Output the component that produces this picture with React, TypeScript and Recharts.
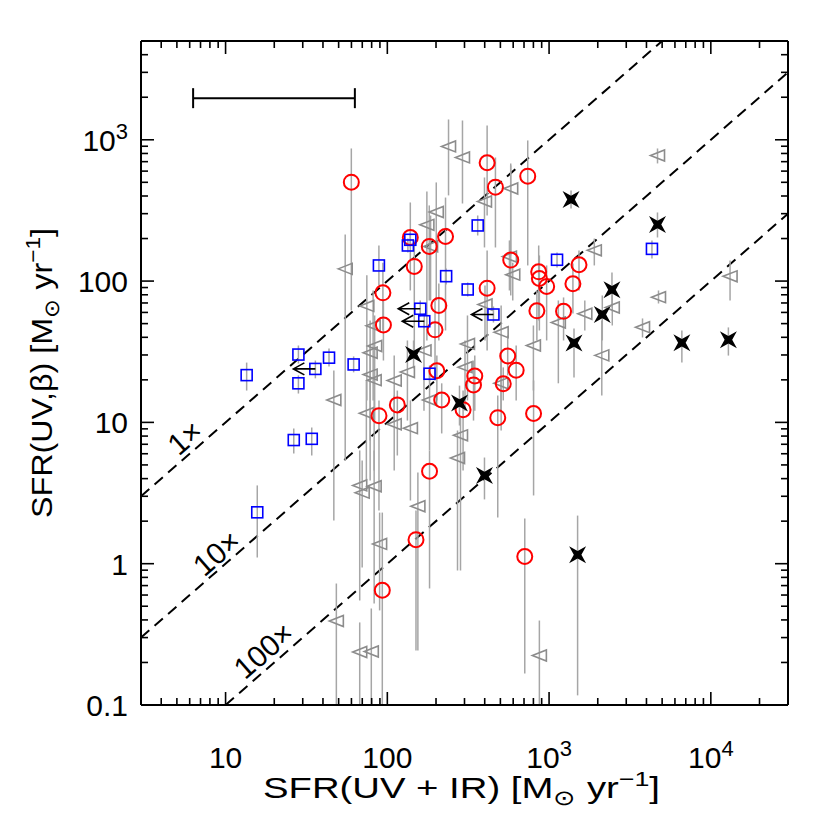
import React from "react";
import {
  ScatterChart,
  Scatter,
  XAxis,
  YAxis,
  ErrorBar,
  ReferenceLine,
  ReferenceDot,
} from "recharts";

const FONT = "'Liberation Sans', Arial, sans-serif";
const FS = 30;

// tick labels
const xMajor = [10, 100, 1000, 10000];
const xMajorLabels = ["10", "100", "10^3", "10^4"];
const yMajor = [0.1, 1, 10, 100, 1000];
const yMajorLabels = ["0.1", "1", "10", "100", "10^3"];

// grey triangles
const triX = [239, 291.5, 200.7, 175.6, 185.1, 54.9, 74.7, 81.7, 83.5, 78.3, 78.3, 82.9, 110.3, 133.1, 168.5, 46.7, 74.2, 110.3, 138.9, 182.4, 67.5, 69.9, 82.9, 154.5, 89.6, 48.4, 67.5, 79.6, 283.4, 271.6, 313, 302.2, 401.6, 505.4, 800, 1141, 1663, 2459, 2118, 579, 398.7, 568.8, 596.2, 1904, 4682, 13150, 4748, 3782, 871, 504];
const triY = [897, 750, 308, 250, 176, 122, 66.7, 48.3, 34.7, 31.1, 21.8, 19.9, 19.8, 22.7, 32.3, 14.4, 11.6, 9.7, 9.1, 14.4, 3.58, 3.18, 3.53, 2.55, 1.38, 0.393, 0.237, 0.239, 8.1, 5.6, 35.9, 24.6, 68.3, 43.5, 35, 50.9, 58.7, 65, 29.8, 452, 366, 149, 111, 165, 774, 108, 76.9, 47.2, 0.224, 18.9];
const triLo = [404, 354, 72.9, 38, 72.9, 5.4, 14.3, 14.3, 10.3, 7.45, 3.88, 4.57, 10.3, 10.3, 12.1, 2.02, 3.88, 4.57, 2.8, 6.33, 0.549, 0.94, 0.523, 0.243, 0.467, 0.1, 0.1, 0.1, 0.895, 0.895, 14.3, 12.1, 38, 8.76, 16.8, 18.9, 44.7, 48.5, 15.5, 152, 173, 85.8, 72.9, 129, 680, 72.9, 69.4, 39.9, 0.1, 12.1];
const triHi = [1392, 1369, 499, 431, 291, 214, 110, 85.8, 57.1, 52.6, 35, 32.3, 29.7, 38, 52.6, 23.3, 19.8, 15.5, 14.3, 23.3, 6.33, 5.37, 6.33, 4.42, 2.3, 0.724, 0.384, 0.482, 10.8, 8.76, 57.1, 38, 93.1, 67.2, 48.5, 72.9, 72.9, 85.8, 52.6, 658, 541, 194, 135, 200, 868, 140, 85.8, 54.4, 0.396, 27.4];

// red circles
const circX = [59.9, 138.7, 181.7, 229, 146.8, 93.9, 94.6, 208.2, 197.2, 202.4, 216.9, 115.3, 88.8, 294, 341, 347.3, 521, 481.6, 802, 555, 626, 414, 466, 738, 579.4, 414, 862.6, 871, 966, 1404, 1531, 840.6, 1229, 707.5, 182.4, 150.4, 93.1];
const circY = [501, 203.5, 175.8, 206.8, 126.9, 82.6, 48.9, 67.2, 45.2, 23.2, 14.4, 13.3, 11.15, 12.3, 18.4, 21.3, 18.76, 10.8, 11.56, 29.5, 23.4, 687.6, 461.8, 552.6, 140.8, 89.1, 116.3, 104.3, 91.6, 95.7, 130.5, 61.6, 61.1, 1.124, 4.51, 1.479, 0.649];
const circLo = [61.9, 85.8, 72.9, 44.7, 32.3, 44.7, 27.4, 38, 19.8, 14.3, 8.35, 5.83, 2.38, 4.57, 10.3, 12.1, 14.3, 2.12, 3.04, 21.5, 14.3, 291, 172.9, 129, 79.1, 32.3, 52.6, 44.7, 38, 59, 85.8, 38, 38, 0.167, 0.668, 0.243, 0.1];
const circHi = [868, 360, 343, 390, 194, 135, 72.9, 96.2, 72.9, 29.7, 18.9, 16.8, 14.3, 16.8, 27.4, 29.7, 24.5, 15.5, 19.8, 41.2, 35, 1262, 749, 989, 679.5, 164.7, 178.6, 151.8, 129, 133.2, 164.7, 85.8, 76.6, 2.09, 6.33, 2.38, 2.3];

// blue squares
const sqX = [13.5, 28.2, 35.9, 43.6, 61.9, 28.2, 26.4, 34.1, 15.7, 88.7, 138.7, 134, 159.8, 169.2, 231, 182.4, 362, 314, 453, 1120, 4325];
const sqY = [21.6, 30.2, 23.9, 28.7, 25.7, 18.9, 7.5, 7.65, 2.31, 129, 196, 178.6, 63.7, 52, 108.3, 22.1, 247.5, 87.2, 58, 141.5, 169];
const sqLo = [16.8, 26.1, 20.5, 24.9, 22.6, 16, 6.03, 5.83, 1.106, 93.1, 172.9, 159.4, 56.2, 46.2, 94.6, 19.5, 210.2, 77.8, 50.9, 124.9, 144.5];
const sqHi = [26.5, 35, 27.4, 33.4, 29.3, 21.5, 9.06, 9.2, 3.58, 178.6, 220.8, 200.2, 72.9, 59, 122.8, 25.3, 291.2, 97.7, 66.1, 159.4, 193.8];

// upper limits in x (arrows)
const limX = [35.9, 159.8, 169.2, 453];
const limY = [23.9, 63.7, 52, 58];

// black stars
const starX = [145.3, 279.4, 398.7, 1367, 4680, 2448, 2133, 1426, 6622, 12840, 1501];
const starY = [30.2, 13.7, 4.21, 378, 251.6, 86.8, 58, 36.5, 36.6, 38.4, 1.156];
const starLo = [24.1, 9.5, 2.85, 326.5, 203.5, 65.1, 38, 20.8, 26.5, 29.7, 0.117];
const starHi = [38, 18.2, 5.64, 437.8, 305.9, 115.1, 79.1, 46.2, 44.7, 47, 2.19];

// typical error bar in the corner
const barX = [20];
const barY = [1970];
const barLo = [6.3];
const barHi = [63];

// 1x, 10x, 100x lines and their labels
const ratios = [1, 10, 100];
const ratioLabels = ["1×", "10×", "100×"];
const ratioLabelX = [5.6, 8.8, 17.2];
const ratioLabelY = [7.8, 1.19, 0.243];

const rowsY = (xs: number[], ys: number[], lo: number[], hi: number[]) =>
  xs.map((x, i) => ({ x, y: ys[i], err: [ys[i] - lo[i], hi[i] - ys[i]] }));

const triData = rowsY(triX, triY, triLo, triHi);
const circData = rowsY(circX, circY, circLo, circHi);
const sqData = rowsY(sqX, sqY, sqLo, sqHi);
const starData = rowsY(starX, starY, starLo, starHi);
const limData = limX.map((x, i) => ({ x, y: limY[i] }));
const barData = barX.map((x, i) => ({ x, y: barY[i], err: [x - barLo[i], barHi[i] - x] }));

function decadeTicks(lo: number, hi: number) {
  const out: number[] = [];
  for (let d = -1; d <= 4; d++) {
    for (let k = 1; k <= 9; k++) {
      const v = +(k * Math.pow(10, d)).toPrecision(3);
      if (v >= lo * 0.999 && v <= hi * 1.001) out.push(v);
    }
  }
  return out;
}
const xTicks = decadeTicks(3, 30000);
const yTicks = decadeTicks(0.1, 5000);

function TickText({ x, y, text, anchor }: any) {
  const [base, sup] = text.split("^");
  return (
    <text x={x} y={y} textAnchor={anchor} fontFamily={FONT} fontSize={FS} fill="#000">
      <tspan>{base}</tspan>
      {sup && (
        <tspan dy={-12} fontSize={22}>
          {sup}
        </tspan>
      )}
    </text>
  );
}

// ticks point inwards; plot frame is 141..788 x 41..705
function makeTick(side: string, majors: number[], labels: string[]) {
  return (props: any) => {
    const { payload } = props;
    const x = side === "left" ? 141 : side === "right" ? 788 : props.x;
    const y = side === "bottom" ? 705 : side === "top" ? 41 : props.y;
    const v = payload.value;
    const mi = majors.findIndex((m) => Math.abs(m - v) / m < 1e-6);
    const len = mi >= 0 ? 13 : 7;
    let x2 = x;
    let y2 = y;
    if (side === "bottom") y2 = y - len;
    if (side === "top") y2 = y + len;
    if (side === "left") x2 = x + len;
    if (side === "right") x2 = x - len;
    let label = null;
    if (mi >= 0 && side === "bottom")
      label = <TickText x={x} y={y + 63} anchor="middle" text={labels[mi]} />;
    if (mi >= 0 && side === "left")
      label = <TickText x={x - 13} y={y + 11} anchor="end" text={labels[mi]} />;
    return (
      <g>
        <line x1={x} y1={y} x2={x2} y2={y2} stroke="#000" strokeWidth={1.6} />
        {label}
      </g>
    );
  };
}

const triangle = (p: any) => (
  <path
    d={`M${p.cx - 7},${p.cy} L${p.cx + 7},${p.cy - 5.5} L${p.cx + 7},${p.cy + 5.5} Z`}
    fill="none"
    stroke="#8c8c8c"
    strokeWidth={1.6}
  />
);
const circle = (p: any) => (
  <circle cx={p.cx} cy={p.cy} r={7.5} fill="none" stroke="#ff0000" strokeWidth={2} />
);
const square = (p: any) => (
  <rect x={p.cx - 5.5} y={p.cy - 5.5} width={11} height={11} fill="none" stroke="#0000ff" strokeWidth={1.6} />
);
const star = (p: any) => {
  const a = 8.5;
  const b = 3.8;
  const { cx, cy } = p;
  return (
    <path
      d={`M${cx - a},${cy - a} L${cx},${cy - b} L${cx + a},${cy - a} L${cx + b},${cy} L${cx + a},${cy + a} L${cx},${cy + b} L${cx - a},${cy + a} L${cx - b},${cy} Z`}
      fill="#000"
    />
  );
};
const arrow = (p: any) => {
  const { cx, cy } = p;
  const tip = cx - 22;
  return (
    <path
      d={`M${cx},${cy} L${tip},${cy} M${tip + 11},${cy - 6} L${tip},${cy} L${tip + 11},${cy + 6}`}
      fill="none"
      stroke="#000"
      strokeWidth={1.6}
    />
  );
};
const none = () => <g />;

const errStroke = "#a6a6a6";
const axisLine = { stroke: "#000", strokeWidth: 2 };

export default function App() {
  return (
    <div style={{ position: "absolute", left: 0, top: 0, width: 830, height: 830, background: "#fff" }}>
      <ScatterChart width={830} height={830} margin={{ top: 40, right: 41, bottom: 124, left: 140 }}>
        <XAxis
          dataKey="x"
          type="number"
          scale="log"
          domain={[3, 30000]}
          allowDataOverflow
          ticks={xTicks}
          interval={0}
          height={1}
          tickSize={0}
          tickMargin={0}
          tickLine={false}
          axisLine={axisLine}
          tick={makeTick("bottom", xMajor, xMajorLabels)}
        />
        <XAxis
          xAxisId="top"
          orientation="top"
          dataKey="x"
          type="number"
          scale="log"
          domain={[3, 30000]}
          allowDataOverflow
          ticks={xTicks}
          interval={0}
          height={1}
          tickSize={0}
          tickMargin={0}
          tickLine={false}
          axisLine={axisLine}
          tick={makeTick("top", xMajor, xMajorLabels)}
        />
        <YAxis
          dataKey="y"
          type="number"
          scale="log"
          domain={[0.1, 5000]}
          allowDataOverflow
          ticks={yTicks}
          interval={0}
          width={1}
          tickSize={0}
          tickMargin={0}
          tickLine={false}
          axisLine={axisLine}
          tick={makeTick("left", yMajor, yMajorLabels)}
        />
        <YAxis
          yAxisId="right"
          orientation="right"
          dataKey="y"
          type="number"
          scale="log"
          domain={[0.1, 5000]}
          allowDataOverflow
          ticks={yTicks}
          interval={0}
          width={1}
          tickSize={0}
          tickMargin={0}
          tickLine={false}
          axisLine={axisLine}
          tick={makeTick("right", yMajor, yMajorLabels)}
        />

        {ratios.map((r) => (
          <ReferenceLine
            key={r}
            segment={[
              { x: r * 0.1 > 3 ? r * 0.1 : 3, y: (r * 0.1 > 3 ? r * 0.1 : 3) / r },
              { x: Math.min(30000, 5000 * r), y: Math.min(30000, 5000 * r) / r },
            ]}
            stroke="#000"
            strokeWidth={2}
            strokeDasharray="11 7"
            ifOverflow="visible"
          />
        ))}

        <Scatter data={triData} shape={triangle} isAnimationActive={false}>
          <ErrorBar dataKey="err" direction="y" width={0} stroke={errStroke} strokeWidth={1.5} />
        </Scatter>
        <Scatter data={circData} shape={circle} isAnimationActive={false}>
          <ErrorBar dataKey="err" direction="y" width={0} stroke={errStroke} strokeWidth={1.5} />
        </Scatter>
        <Scatter data={sqData} shape={square} isAnimationActive={false}>
          <ErrorBar dataKey="err" direction="y" width={0} stroke={errStroke} strokeWidth={1.5} />
        </Scatter>
        <Scatter data={starData} shape={star} isAnimationActive={false}>
          <ErrorBar dataKey="err" direction="y" width={0} stroke={errStroke} strokeWidth={1.5} />
        </Scatter>
        <Scatter data={limData} shape={arrow} isAnimationActive={false} />
        <Scatter data={barData} shape={none} isAnimationActive={false}>
          <ErrorBar dataKey="err" direction="x" width={10} stroke="#000" strokeWidth={2} />
        </Scatter>

        {ratioLabels.map((t, i) => (
          <ReferenceDot
            key={t}
            x={ratioLabelX[i]}
            y={ratioLabelY[i]}
            r={0}
            shape={(p: any) => (
              <text
                x={p.cx}
                y={p.cy}
                transform={`rotate(-41 ${p.cx} ${p.cy})`}
                textAnchor="middle"
                dominantBaseline="central"
                fontFamily={FONT}
                fontSize={FS}
                fill="#000"
              >
                {t}
              </text>
            )}
          />
        ))}

        <text
          x={263}
          y={798}
          textLength={397}
          lengthAdjust="spacingAndGlyphs"
          fontFamily={FONT}
          fontSize={FS}
          fill="#000"
        >
          SFR(UV + IR) [M
          <tspan fontSize={21} dy={7}>⊙</tspan>
          <tspan dy={-7}> yr</tspan>
          <tspan fontSize={21} dy={-12}>−1</tspan>
          <tspan dy={12}>]</tspan>
        </text>
        <text
          x={52}
          y={518}
          transform="rotate(-90 52 518)"
          textLength={290}
          lengthAdjust="spacingAndGlyphs"
          fontFamily={FONT}
          fontSize={FS}
          fill="#000"
        >
          SFR(UV,β) [M
          <tspan fontSize={21} dy={7}>⊙</tspan>
          <tspan dy={-7}> yr</tspan>
          <tspan fontSize={21} dy={-12}>−1</tspan>
          <tspan dy={12}>]</tspan>
        </text>
      </ScatterChart>
    </div>
  );
}
